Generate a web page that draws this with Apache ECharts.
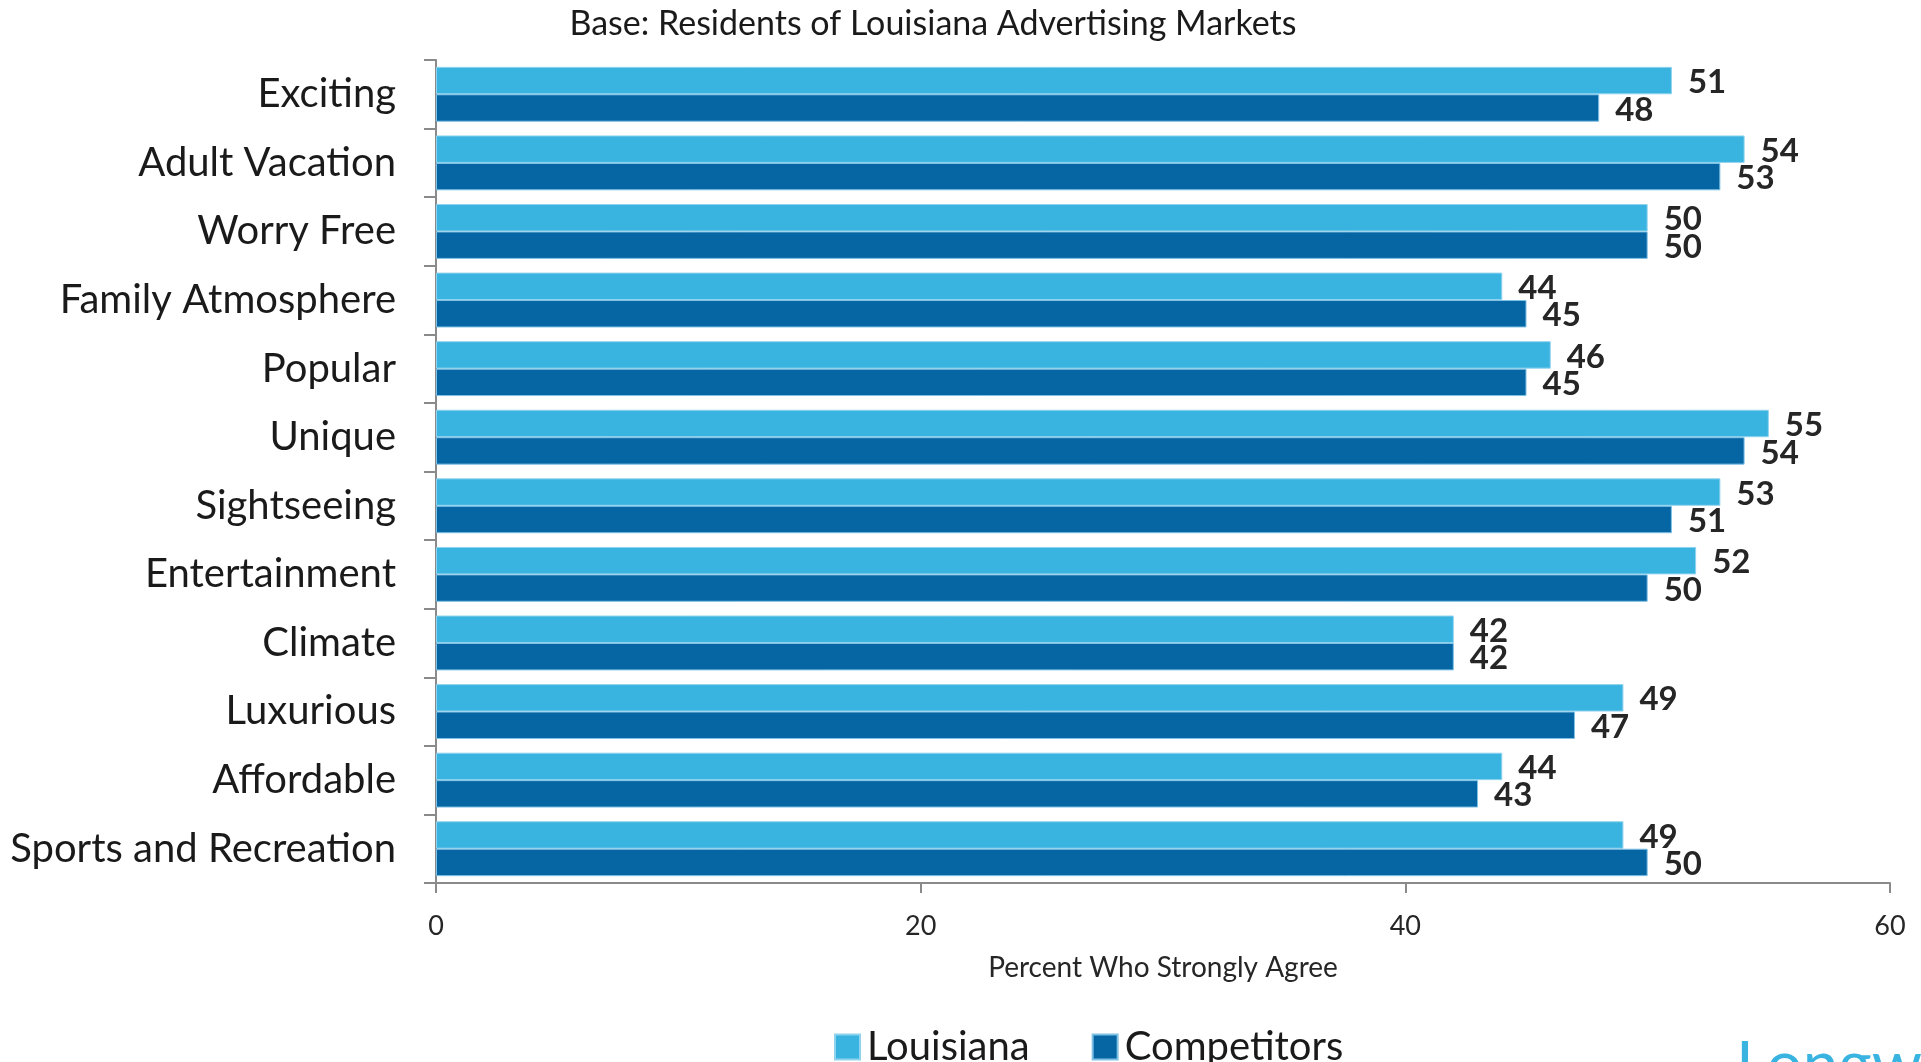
<!DOCTYPE html>
<html>
<head>
<meta charset="utf-8">
<script src="https://cdn.jsdelivr.net/npm/echarts@6/dist/echarts.min.js"></script>
<style>
  html, body { margin: 0; padding: 0; background: #ffffff; }
  #chart { width: 1921px; height: 1062px; }
</style>
</head>
<body>
<div id="chart"></div>
<script>
// Destination attributes, top to bottom
const categories = [
  'Exciting', 'Adult Vacation', 'Worry Free', 'Family Atmosphere', 'Popular',
  'Unique', 'Sightseeing', 'Entertainment', 'Climate', 'Luxurious',
  'Affordable', 'Sports and Recreation'
];
// Percent who strongly agree
const louisiana   = [51, 54, 50, 44, 46, 55, 53, 52, 42, 49, 44, 49];
const competitors = [48, 53, 50, 45, 45, 54, 51, 50, 42, 47, 43, 50];
const xTicks = [0, 20, 40, 60];

const FONT = 'Lato, "Open Sans", sans-serif';
const LIGHT = '#39b3e0';
const DARK = '#0665a3';

const chart = echarts.init(document.getElementById('chart'), null, { renderer: 'canvas' });

const valueLabel = {
  show: true,
  position: 'right',
  distance: 16,
  offset: [0, 2],
  fontFamily: FONT,
  fontWeight: 'bold',
  fontSize: 33,
  color: '#262626'
};

chart.setOption({
  animation: false,
  backgroundColor: '#ffffff',
  title: {
    text: 'Base: Residents of Louisiana Advertising Markets',
    left: 928,
    textAlign: 'center',
    top: 2,
    textStyle: { fontFamily: FONT, fontWeight: 'normal', fontSize: 34, color: '#1a1a1a' }
  },
  legend: {
    data: ['Louisiana', 'Competitors'],
    left: 829,
    top: 1022,
    itemWidth: 25,
    itemHeight: 25,
    itemGap: 62,
    icon: 'rect',
    textStyle: { fontFamily: FONT, fontSize: 40, color: '#1a1a1a', padding: [0, 0, 0, 2] }
  },
  grid: { left: 436, right: 31, top: 60, bottom: 179, containLabel: false },
  xAxis: {
    type: 'value',
    min: xTicks[0],
    max: xTicks[xTicks.length - 1],
    interval: xTicks[1] - xTicks[0],
    name: 'Percent Who Strongly Agree',
    nameLocation: 'middle',
    nameGap: 71,
    nameTextStyle: { fontFamily: FONT, fontSize: 28, color: '#262626' },
    axisLine: { show: true, lineStyle: { color: '#8a8a8a', width: 2 } },
    axisTick: { show: true, length: 10, lineStyle: { color: '#8a8a8a', width: 2 } },
    axisLabel: { fontFamily: FONT, fontSize: 27, color: '#262626', margin: 30 },
    splitLine: { show: false }
  },
  yAxis: {
    type: 'category',
    data: categories,
    inverse: true,
    axisLine: { show: true, lineStyle: { color: '#8a8a8a', width: 2 } },
    axisTick: { show: true, length: 12, lineStyle: { color: '#8a8a8a', width: 2 } },
    axisLabel: { fontFamily: FONT, fontSize: 40, color: '#1a1a1a', margin: 40 }
  },
  series: [
    {
      name: 'Louisiana',
      type: 'bar',
      data: louisiana,
      barGap: '0%',
      barCategoryGap: '20%',
      itemStyle: { color: LIGHT, borderColor: '#8fd3ee', borderWidth: 1 },
      label: valueLabel
    },
    {
      name: 'Competitors',
      type: 'bar',
      data: competitors,
      barGap: '0%',
      barCategoryGap: '20%',
      itemStyle: { color: DARK, borderColor: '#7fc2e6', borderWidth: 1 },
      label: valueLabel
    }
  ],
  graphic: [
    {
      type: 'text',
      left: 1736,
      top: 1034,
      style: {
        text: 'Longwoods',
        fontFamily: FONT,
        fontSize: 64,
        fill: '#39b3e0'
      }
    }
  ]
});
</script>
</body>
</html>
